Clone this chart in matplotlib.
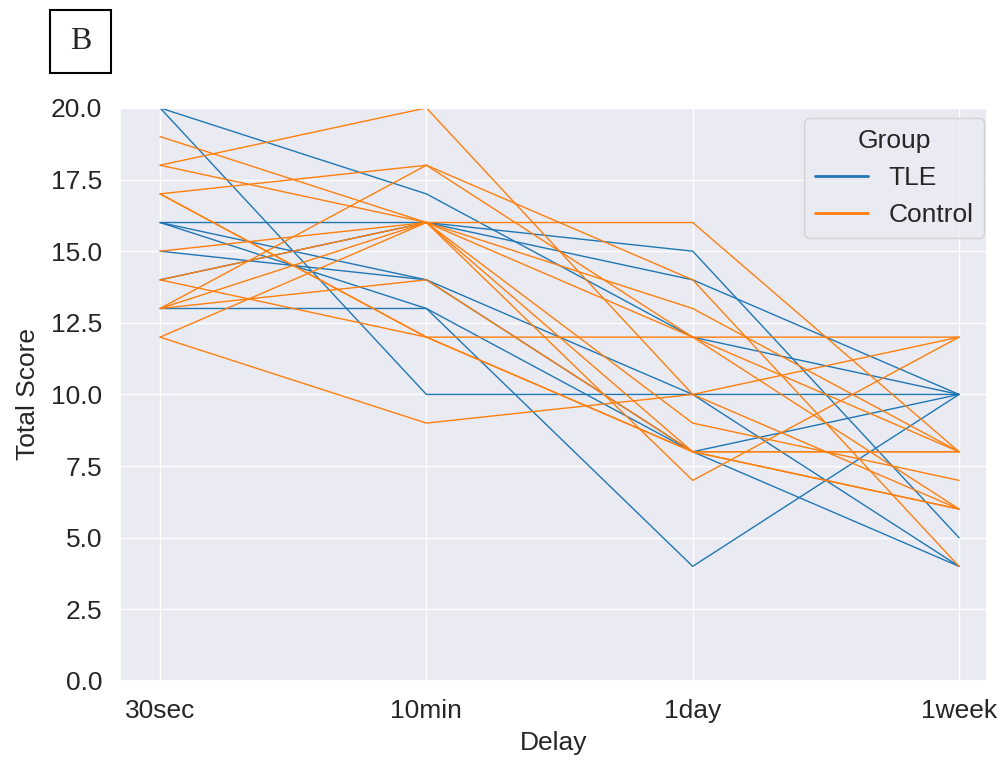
import matplotlib
matplotlib.use("Agg")
import matplotlib.pyplot as plt
from matplotlib.lines import Line2D
from matplotlib.patches import Rectangle
import seaborn as sns

sns.set_theme(style="darkgrid")
plt.rcParams['font.family'] = ['Liberation Sans', 'DejaVu Sans']

delays = ["30sec", "10min", "1day", "1week"]

# one row per subject, scores at each delay
tle_scores = [
    [20, 17, 12, 10],
    [20, 10, 10, 10],
    [16, 16, 15, 5],
    [16, 14, 10, 4],
    [15, 14, 8, 10],
    [14, 16, 14, 10],
    [13, 13, 4, 10],
    [16, 13, 8, 4],
]
control_scores = [
    [19, 16, 13, 8],
    [18, 20, 10, 6],
    [18, 16, 12, 6],
    [17, 18, 14, 4],
    [17, 12, 12, 12],
    [17, 12, 8, 6],
    [15, 16, 16, 8],
    [14, 16, 9, 7],
    [14, 12, 8, 8],
    [13, 18, 12, 8],
    [13, 14, 8, 6],
    [12, 16, 7, 12],
    [12, 9, 10, 12],
    [13, 16, 8, 8],
]

c_tle = "#1f77b4"
c_ctrl = "#ff7f0e"

fig = plt.figure(figsize=(10.01, 7.6), dpi=100)
ax = fig.add_axes([0.12, 0.104, 0.866, 0.754])

x = list(range(len(delays)))
for row in tle_scores:
    ax.plot(x, row, color=c_tle, lw=1.0)
for row in control_scores:
    ax.plot(x, row, color=c_ctrl, lw=1.0)

ax.set_xlim(-0.15, 3.105)
ax.set_ylim(0, 20)
ax.set_yticks([0, 2.5, 5, 7.5, 10, 12.5, 15, 17.5, 20])
ax.set_yticklabels([f"{v:.1f}" for v in ax.get_yticks()])
ax.set_xticks(x)
ax.set_xticklabels(delays)
ax.tick_params(labelsize=19, pad=7)
ax.set_xlabel("Delay", fontsize=19, labelpad=6)
ax.set_ylabel("Total Score", fontsize=19, labelpad=8)

handles = [Line2D([], [], color=c_tle, lw=2), Line2D([], [], color=c_ctrl, lw=2)]
ax.legend(handles, ["TLE", "Control"], title="Group", loc="upper right",
          fontsize=19, title_fontsize=19, handlelength=2.0,
          bbox_to_anchor=(0.997, 0.982), borderaxespad=0)

# panel letter
fig.patches.append(Rectangle((0.05, 0.904), 0.061, 0.083, transform=fig.transFigure,
                             fill=False, edgecolor="black", lw=1.5))
fig.text(0.0805, 0.9455, "B", ha="center", va="center", fontsize=23,
         family="Liberation Serif")

fig.savefig("out.png", dpi=100)
